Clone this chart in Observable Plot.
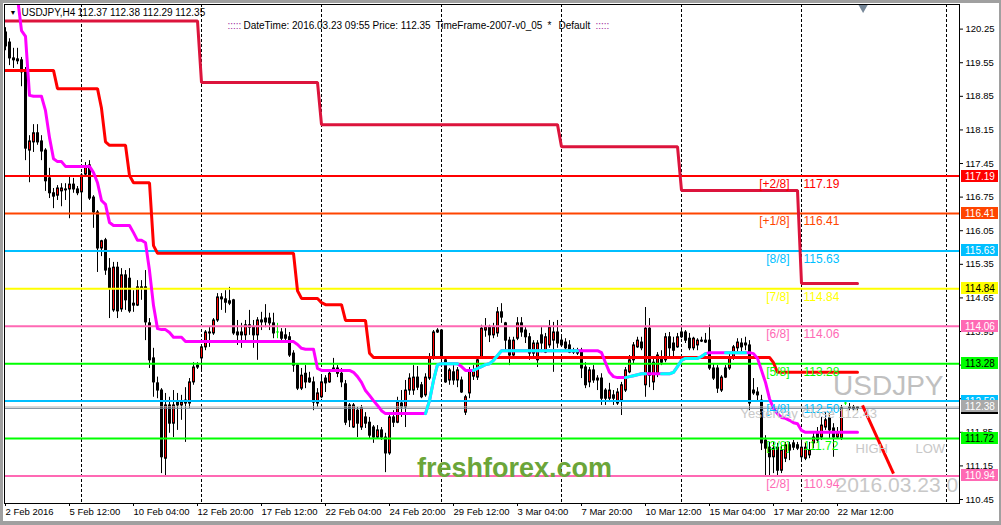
<!DOCTYPE html>
<html><head><meta charset="utf-8">
<script src="https://cdn.jsdelivr.net/npm/d3@7"></script>
<script src="https://cdn.jsdelivr.net/npm/@observablehq/plot@0.6"></script>
<style>
html,body{margin:0;padding:0;background:#fff;}
#wrap{position:relative;width:1001px;height:525px;overflow:hidden;}
#wrap svg{display:block;}
#border{position:absolute;left:0;top:0;width:1001px;height:525px;box-sizing:border-box;border-left:3px solid #a0a0a0;border-top:3px solid #a0a0a0;border-right:2px solid #a0a0a0;border-bottom:4px solid #a0a0a0;pointer-events:none;}
g[aria-label="logo"] text{filter:drop-shadow(1px 2px 2px rgba(40,70,10,0.6));}
</style></head><body><div id="wrap"><div id="border"></div></div>
<script>
// ---- H4 candles (bar index 0 = 2 Feb 2016 20:00) ----
const opens = [120.18,119.97,119.64,119.62,119.60,119.39,117.72,117.89,118.08,117.91,
117.72,117.14,116.83,116.78,116.87,116.91,116.91,117.01,116.91,116.85,
117.22,117.41,116.74,116.43,115.68,115.85,115.26,114.39,115.28,114.41,
115.12,115.05,114.53,114.49,114.87,114.87,114.12,113.39,112.87,112.72,
111.30,112.41,112.03,112.47,112.41,112.45,112.45,112.89,113.20,113.39,
113.62,113.91,113.91,114.18,114.66,114.62,114.58,114.60,113.93,113.93,
113.87,114.08,114.03,113.87,114.18,114.22,114.22,114.12,113.93,113.93,
113.87,113.83,113.49,113.24,112.76,113.07,112.97,112.89,112.45,112.58,
112.97,112.89,113.18,113.07,113.07,112.85,112.41,111.95,112.30,111.95,
112.16,112.05,111.95,111.74,111.89,111.74,111.41,112.16,112.05,112.45,
112.37,112.72,112.72,112.99,112.83,112.62,112.97,113.41,113.93,113.97,
113.35,112.93,113.10,112.93,112.93,112.26,112.66,113.01,112.99,113.41,
113.97,114.03,113.87,113.91,114.35,114.12,113.76,113.45,113.80,114.12,
113.97,113.83,113.49,113.35,113.87,113.51,113.66,113.76,113.93,113.76,
113.72,113.66,113.55,113.55,113.55,113.20,112.89,113.14,112.93,112.97,
112.72,112.55,112.62,112.45,112.51,112.72,113.10,113.35,113.62,113.72,
112.83,114.01,112.89,113.07,113.41,113.35,113.83,113.70,113.62,113.93,
113.93,113.80,113.60,113.66,113.76,113.76,113.76,113.18,113.18,112.72,
113.18,113.18,113.39,113.60,113.70,113.70,113.66,112.72,112.68,112.51,
111.68,111.53,111.33,111.53,111.05,111.30,111.58,111.62,111.58,111.33,
111.30,111.37,111.62,111.83,111.74,111.95,112.14,111.93,111.74,111.72,
112.45,112.35,112.37,112.37];
const highs = [120.28,120.05,119.85,119.85,119.66,119.45,118.03,118.26,118.26,118.03,
117.76,117.35,116.93,116.99,117.03,117.03,117.16,117.14,116.97,117.24,
117.47,117.51,116.78,116.47,115.85,115.89,115.47,115.39,115.39,115.26,
115.22,115.26,114.80,115.01,115.01,115.22,114.22,113.60,113.00,112.76,
112.66,112.58,112.72,112.66,112.62,112.78,112.97,113.30,113.30,113.66,
113.97,114.03,114.22,114.74,114.74,114.80,114.87,114.62,114.18,114.12,
114.18,114.39,114.18,114.24,114.35,114.51,114.33,114.33,114.12,114.01,
114.01,113.93,113.55,113.28,113.18,113.24,113.10,113.00,112.76,113.03,
113.03,113.14,113.39,113.24,113.18,112.93,112.45,112.45,112.37,112.41,
112.26,112.16,111.99,111.99,111.95,111.83,112.24,112.30,112.58,112.72,
112.93,113.07,113.24,113.22,112.89,113.07,113.49,113.97,114.01,113.99,
113.41,113.18,113.24,113.20,113.00,112.62,113.20,113.24,113.41,114.08,
114.22,114.08,114.12,114.45,114.53,114.14,113.83,113.83,114.24,114.24,
114.03,113.91,113.76,113.76,114.03,113.91,114.18,114.14,114.18,113.87,
113.80,113.76,113.60,113.60,113.60,113.30,113.20,113.24,113.03,113.07,
112.76,112.87,112.72,112.76,112.89,113.20,113.45,113.72,113.83,113.83,
114.45,114.22,113.41,113.51,113.55,113.91,113.93,113.83,113.91,114.03,
113.97,113.91,113.83,113.80,113.83,113.91,114.08,113.28,113.24,113.03,
113.24,113.49,113.66,113.80,113.80,113.83,113.76,112.97,112.78,112.62,
111.78,111.64,111.64,111.62,111.58,111.64,111.64,111.68,111.64,111.64,
111.62,111.64,111.83,111.95,112.16,112.26,112.24,112.03,111.95,112.41,
112.51,112.45,112.41,112.38];
const lows = [119.80,119.49,119.43,119.51,119.05,117.51,117.05,117.68,117.83,117.51,
116.87,116.72,116.51,116.68,116.55,116.68,116.30,116.83,116.78,116.45,
117.18,116.68,116.10,115.18,115.51,115.12,114.22,114.35,114.22,114.35,
114.39,114.33,114.35,114.47,114.60,113.76,113.18,112.58,112.55,110.99,
110.95,111.83,111.74,111.89,112.10,111.64,112.35,112.83,113.16,113.14,
113.55,113.62,113.87,114.14,114.39,114.33,114.49,113.87,113.66,113.60,
113.72,113.87,113.60,113.35,113.97,114.03,113.97,113.80,113.80,113.76,
113.76,113.41,113.10,112.72,112.72,112.76,112.87,112.30,112.37,112.55,
112.68,112.87,113.10,112.99,112.78,111.99,111.95,111.93,111.74,111.89,
111.93,111.72,111.62,111.72,111.68,111.01,111.37,111.95,112.03,112.16,
111.95,112.62,112.62,112.72,112.55,112.58,112.93,113.35,113.91,113.30,
112.87,112.83,112.83,112.78,112.66,112.20,112.55,112.93,112.93,113.39,
113.83,113.72,113.80,113.83,114.12,113.55,113.24,113.41,113.76,113.83,
113.70,113.35,113.41,113.20,113.51,113.49,113.60,113.10,113.60,113.62,
113.55,113.49,113.47,113.45,112.97,112.76,112.78,112.87,112.72,112.41,
112.41,112.47,112.41,112.41,112.20,112.68,113.07,113.28,113.60,113.55,
112.58,112.78,112.72,112.99,113.24,113.30,113.41,113.41,113.60,113.80,
113.70,113.55,113.55,113.55,113.72,113.70,113.14,112.93,112.66,112.68,
112.97,113.14,113.35,113.51,113.49,113.55,112.30,112.62,112.51,111.47,
110.91,110.91,110.99,110.95,110.99,111.22,111.26,111.47,111.47,111.22,
111.26,111.30,111.51,111.62,111.68,111.89,111.72,111.33,111.72,111.68,
112.41,112.30,112.30,112.29];
const closes = [119.89,119.64,119.60,119.58,119.35,117.76,117.91,118.08,117.89,117.70,
117.08,116.83,116.76,116.93,116.93,116.89,117.01,116.91,116.83,117.20,
117.37,116.72,116.43,115.68,115.83,115.22,114.85,115.28,114.37,115.12,
114.60,114.37,114.49,114.87,114.85,114.14,113.35,112.89,112.72,111.33,
112.41,112.03,112.41,112.41,112.47,112.51,112.89,113.20,113.24,113.62,
113.93,113.93,114.18,114.66,114.62,114.55,114.53,113.91,113.87,113.87,
114.08,114.03,113.87,114.18,114.14,114.14,114.12,113.91,113.93,113.80,
113.80,113.45,113.24,112.76,113.03,112.89,112.89,112.47,112.66,112.89,
112.87,113.07,113.14,113.18,112.89,112.05,112.10,112.41,112.03,112.35,
112.03,111.78,111.74,111.89,111.74,111.41,112.16,112.05,112.47,112.37,
112.72,112.97,112.99,112.78,112.58,112.99,113.39,113.93,113.97,113.39,
112.89,113.14,112.93,113.14,112.68,112.58,113.14,113.14,113.35,114.01,
114.03,113.87,114.03,114.35,114.24,113.76,113.45,113.76,114.12,113.93,
113.83,113.49,113.70,113.70,113.70,113.83,114.03,113.93,113.70,113.66,
113.60,113.51,113.51,113.49,113.18,112.83,113.14,112.93,112.97,112.55,
112.55,112.72,112.55,112.68,112.83,113.14,113.35,113.66,113.76,113.60,
114.01,113.03,113.30,113.45,113.30,113.83,113.60,113.55,113.83,113.83,
113.76,113.60,113.80,113.76,113.74,113.72,113.18,112.97,112.76,112.99,
112.99,113.41,113.62,113.72,113.62,113.66,112.45,112.66,112.62,111.62,
111.51,111.33,111.51,111.05,111.47,111.58,111.47,111.53,111.51,111.53,
111.53,111.47,111.74,111.68,111.99,112.10,111.89,111.74,111.83,112.35,
112.45,112.37,112.33,112.35];

// ---- x axis ----
const xTickBars = [0,16,32,48,64,80,96,112,128,144,160,176,192,208];
const xTickLabels = ["2 Feb 2016","5 Feb 12:00","10 Feb 04:00","12 Feb 20:00","17 Feb 12:00","22 Feb 04:00","24 Feb 20:00","29 Feb 12:00","3 Mar 04:00","7 Mar 20:00","10 Mar 12:00","15 Mar 04:00","17 Mar 20:00","22 Mar 12:00"];
const separatorBars = [19,49,79,109,139,169,199,235.25];
// ---- y axis ----
const yTicks = [120.25,119.55,118.85,118.15,117.45,116.75,116.05,115.35,114.65,113.95,113.25,112.55,111.85,111.15,110.45];

// ---- Murrey levels ----
const levelValues = [117.19,116.41,115.63,114.84,114.06,113.28,112.50,111.72,110.94];
const levelTags = ["[+2/8]","[+1/8]","[8/8]","[7/8]","[6/8]","[5/8]","[4/8]","[3/8]","[2/8]"];
const levelColors = ["#FF0000","#FF4500","#00BFFF","#FFFF00","#FF69B4","#00FF00","#00BFFF","#00FF00","#FF69B4"];
const levelBoxText = ["#FFFFFF","#FFFFFF","#FFFFFF","#000000","#FFFFFF","#000000","#FFFFFF","#000000","#FFFFFF"];
const levelLabelBar = 199;
const askPrice = 112.38, bidPrice = 112.35;

// ---- step lines ----
const crimsonBars = [0,48,49,78,79,138,139,168,169,198,199,213];
const crimsonValues = [120.42,120.42,119.14,119.14,118.26,118.26,117.80,117.80,116.89,116.89,114.95,114.95];
const redBars = [0,12,13,23,24,25,26,30,31,32,36,37,38,72,73,74,78,79,80,84,85,90,91,92,191,192,193,213];
const redValues = [119.39,119.39,119.01,119.01,118.60,117.90,117.83,117.83,117.20,117.05,117.05,115.74,115.58,115.58,114.80,114.64,114.64,114.55,114.51,114.51,114.18,114.18,113.50,113.41,113.41,113.30,113.10,113.10];

// ---- trailing line (magenta / cyan), per bar from bar 3 ----
const trailStart = 3;
const trailValues = [120.91,120.22,120.10,118.87,118.85,118.85,118.85,118.55,117.99,117.55,
117.49,117.49,117.39,117.39,117.39,117.39,117.39,117.39,117.39,117.26,
117.05,116.68,116.60,116.22,116.16,116.16,116.16,116.16,116.16,116.01,
115.85,115.85,115.80,115.22,114.49,114.01,113.99,113.99,113.93,113.83,
113.83,113.83,113.74,113.74,113.74,113.74,113.74,113.74,113.74,113.74,
113.74,113.74,113.74,113.74,113.74,113.74,113.74,113.74,113.74,113.74,
113.74,113.74,113.74,113.74,113.74,113.74,113.74,113.74,113.74,113.74,
113.68,113.60,113.58,113.58,113.58,113.18,113.14,113.14,113.14,113.14,
113.14,113.14,113.14,113.14,113.10,113.01,112.89,112.72,112.62,112.51,
112.41,112.30,112.24,112.24,112.24,112.24,112.24,112.24,112.24,112.24,
112.24,112.24,112.24,112.51,112.93,113.26,113.28,113.28,113.28,113.28,
113.28,113.22,113.14,113.14,113.14,113.18,113.22,113.26,113.28,113.35,
113.45,113.55,113.55,113.55,113.55,113.55,113.55,113.55,113.55,113.55,
113.55,113.55,113.55,113.55,113.55,113.55,113.55,113.55,113.55,113.55,
113.55,113.55,113.55,113.55,113.55,113.55,113.51,113.30,113.10,113.01,
112.99,112.99,112.99,113.01,113.03,113.05,113.07,113.07,113.07,113.07,
113.07,113.07,113.07,113.07,113.10,113.22,113.35,113.39,113.39,113.39,
113.39,113.43,113.49,113.51,113.51,113.51,113.51,113.51,113.51,113.51,
113.51,113.51,113.51,113.51,113.49,113.39,113.14,112.89,112.55,112.35,
112.24,112.16,112.14,112.10,112.05,112.03,111.89,111.85,111.85,111.85,
111.85,111.85,111.85,111.85,111.85,111.85,111.85,111.85,111.85,111.85,
111.85];
const cyanRanges = [[105,113],[117,143],[155,160],[164,175],[180,185]];

// ---- annotations ----
const headerSymbol = "USDJPY,H4";
const headerOHLC = "112.37 112.38 112.29 112.35";
const infoParts = ["DateTime: 2016.03.23 09:55","Price: 112.35","TimeFrame-2007-v0_05","*","Default"];
const watermark = "USDJPY";
const timeStamp = "2016.03.23 09:55";
const yesterdayClose = "Yesterday Close 112.43";
const highLabel = "HIGH", lowLabel = "LOW";
const logoText = "freshforex.com";
const pointerFrom = [214.25, 112.41], pointerTo = [222, 110.99];
const shiftMarkerBar = 214.4;

// ---- build rows ----
const bars = opens.map((o, i) => ({i, o, h: highs[i], l: lows[i], c: closes[i]}));
const bulls = bars.filter(d => d.c > d.o);
const levels = levelValues.map((v, k) => ({v, tag: levelTags[k], col: levelColors[k], fg: levelBoxText[k]}));
const crimson = crimsonBars.map((b, k) => ({b, v: crimsonValues[k]}));
const redLine = redBars.map((b, k) => ({b, v: redValues[k]}));
const trail = trailValues.map((v, k) => ({i: trailStart + k, v}));
const cyanRows = cyanRanges.flatMap(([a, z], s) => trail.filter(d => d.i >= a && d.i <= z).map(d => ({...d, seg: s})));
const boxes = [...levels.map(d => ({v: d.v, bg: d.col, fg: d.fg})), {v: bidPrice, bg: "#000000", fg: "#FFFFFF"}, {v: askPrice, bg: "#A9A9A9", fg: "#FFFFFF"}];
const xLabel = new Map(xTickBars.map((b, k) => [b, xTickLabels[k]]));

const FONT = "Liberation Sans, Arial, sans-serif";

function priceBoxes(index, scales, values, dims) {
  const g = d3.create("svg:g").attr("font-family", FONT).attr("font-size", 10).attr("text-anchor", "start");
  const x0 = dims.width - dims.marginRight + 2;
  for (const b of boxes) {
    const yy = Math.round(scales.y(b.v));
    g.append("rect").attr("x", x0).attr("y", yy - 6).attr("width", 37).attr("height", 12).attr("fill", b.bg);
    g.append("text").attr("x", x0 + 4).attr("y", yy + 4).attr("text-anchor", "start").attr("fill", b.fg).text(b.v.toFixed(2));
  }
  return g.node();
}

const T = (txt, o) => Plot.text([txt], {frameAnchor: "top-left", text: d => d, textAnchor: "start", lineAnchor: "middle", ...o});

const chart = Plot.plot({
  width: 1001, height: 525,
  marginTop: 4, marginLeft: 4, marginRight: 42, marginBottom: 22,
  x: {domain: [-0.25, 238.5], axis: null},
  y: {domain: [110.367, 120.763], axis: null},
  color: {type: "identity"},
  style: {fontFamily: FONT, fontSize: "10px", background: "white", color: "black", overflow: "visible"},
  marks: [
    Plot.ruleX(separatorBars, {x: d => d, stroke: "black", strokeDasharray: "3,2", strokeWidth: 1}),
    // candles
    Plot.ruleX(bars, {x: "i", y1: "l", y2: "h", stroke: d => d.o === d.c ? "#00FF00" : "black", strokeWidth: 1}),
    Plot.rect(bars, {x1: d => d.i - 0.25, x2: d => d.i + 0.5, y1: "o", y2: "c", fill: d => d.o === d.c ? "#00FF00" : "black", insetTop: -0.5, insetBottom: -0.5}),
    Plot.rect(bulls, {x1: d => d.i, x2: d => d.i + 0.25, y1: "o", y2: "c", fill: "#FF0000", insetTop: 1, insetBottom: 1}),
    // levels
    Plot.ruleY(levels, {y: "v", stroke: "col", strokeWidth: 2}),
    Plot.ruleY([askPrice], {stroke: "#C0C0C0", strokeWidth: 1}),
    Plot.ruleY([bidPrice], {stroke: "#708090", strokeWidth: 1}),
    // indicator lines
    Plot.line(crimson, {x: "b", y: "v", stroke: "#DC143C", strokeWidth: 3, strokeLinejoin: "miter"}),
    Plot.line(redLine, {x: "b", y: "v", stroke: "#FF0000", strokeWidth: 3, strokeLinejoin: "miter"}),
    Plot.line(trail, {x: "i", y: "v", stroke: "#FF00FF", strokeWidth: 3, clip: true}),
    Plot.line(cyanRows, {x: "i", y: "v", z: "seg", stroke: "#00FFFF", strokeWidth: 3}),
    // level labels
    Plot.text(levels, {x: () => levelLabelBar, y: "v", text: "tag", fill: "col", textAnchor: "end", dx: -12, dy: 8, fontSize: 12}),
    Plot.text(levels, {x: () => levelLabelBar, y: "v", text: d => d.v.toFixed(2), fill: "col", textAnchor: "start", dx: 2, dy: 8, fontSize: 12}),
    // pointer
    Plot.link([0], {x1: () => pointerFrom[0], y1: () => pointerFrom[1], x2: () => pointerTo[0], y2: () => pointerTo[1], stroke: "#FF0000", strokeWidth: 3}),
    // watermarks
    T(watermark, {frameAnchor: "top-right", dx: -16, dy: 382, fontSize: 28, fill: "#C0C0C0", textAnchor: "end"}),
    T(yesterdayClose, {dx: 736, dy: 409, fontSize: 13, fill: "#C8C8C8"}),
    T(highLabel, {dx: 851, dy: 444, fontSize: 13, fill: "#C8C8C8"}),
    T(lowLabel, {dx: 911, dy: 444, fontSize: 13, fill: "#C8C8C8"}),
    T(timeStamp, {dx: 831, dy: 481, fontSize: 21, fill: "#C8C8C8", clip: true}),
    T(logoText, {dx: 510, dy: 464, fontSize: 27, fontWeight: "bold", fill: "#6BA539", textAnchor: "middle", ariaLabel: "logo"}),
    // header
    T("\u25BC", {dx: 5, dy: 8.5, fontSize: 7, fill: "black"}),
    T(headerSymbol, {dx: 17, dy: 8.5, fontSize: 10, fill: "black"}),
    T(headerOHLC, {dx: 73, dy: 8.5, fontSize: 10, fill: "black"}),
    T(":::::", {dx: 223, dy: 21, fontSize: 10, fill: "#9A1F9A"}),
    T(":::::", {dx: 591, dy: 21, fontSize: 10, fill: "#9A1F9A"}),
    T(infoParts[0], {dx: 239, dy: 21, fontSize: 10, fill: "black"}),
    T(infoParts[1], {dx: 368, dy: 21, fontSize: 10, fill: "black"}),
    T(infoParts[2], {dx: 431, dy: 21, fontSize: 10, fill: "black"}),
    T(infoParts[3], {dx: 543, dy: 21, fontSize: 10, fill: "black"}),
    T(infoParts[4], {dx: 554, dy: 21, fontSize: 10, fill: "black"}),
    Plot.dot([shiftMarkerBar], {x: d => d, frameAnchor: "top", symbol: "triangle", rotate: 180, r: 3.5, fill: "#778899", dy: 3}),
    // axes and frame
    Plot.axisX(xTickBars, {anchor: "bottom", tickFormat: d => xLabel.get(d), tickSize: 3, tickPadding: 2, textAnchor: "start", dx: 0, fontSize: 9.5}),
    Plot.axisY(yTicks, {anchor: "right", tickFormat: d => d.toFixed(2), tickSize: 3, tickPadding: 3, fontSize: 9.5}),
    Plot.frame({stroke: "black"}),
    priceBoxes
  ]
});
document.getElementById("wrap").insertBefore(chart, document.getElementById("border"));
</script></body></html>
